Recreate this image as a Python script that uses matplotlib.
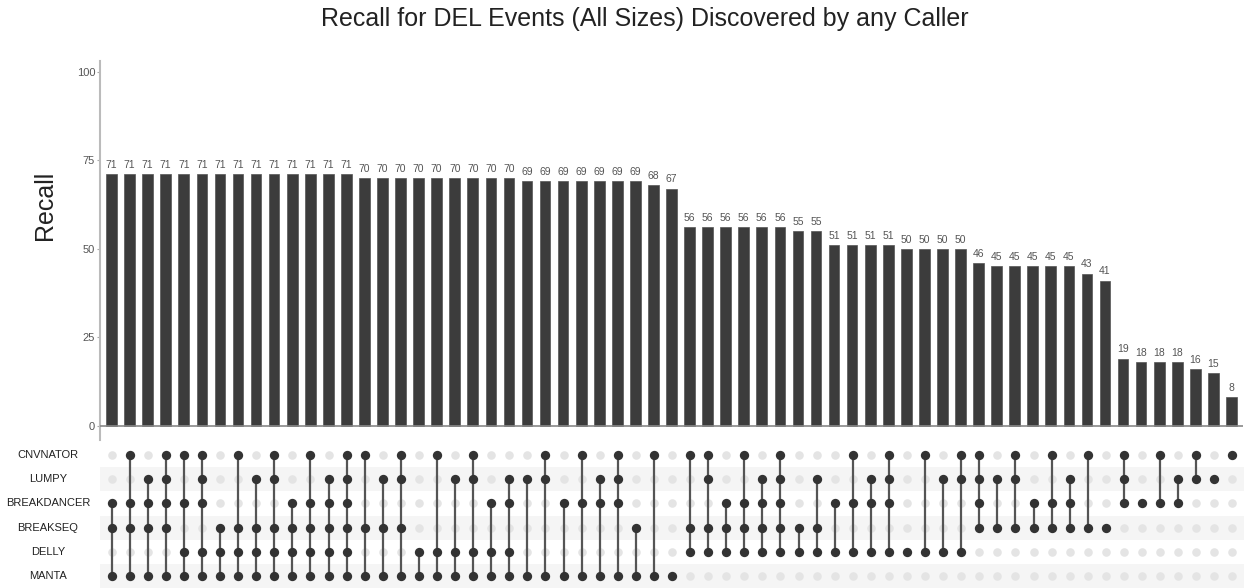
import matplotlib
matplotlib.use('Agg')
import matplotlib.pyplot as plt

plt.rcParams['font.family'] = ['Liberation Sans', 'DejaVu Sans']

callers = ['CNVNATOR', 'LUMPY', 'BREAKDANCER', 'BREAKSEQ', 'DELLY', 'MANTA']
codes = ['C', 'L', 'BD', 'BS', 'D', 'M']

# each column of the matrix: which callers are in the intersection
combos = [
    'BD BS M', 'C BD BS M', 'L BD BS M', 'C L BD BS M', 'C BD D M', 'C L BD D M',
    'BS D M', 'C BS D M', 'L BS D M', 'C L BS D M', 'BD BS D M', 'C BD BS D M',
    'L BD BS D M', 'C L BD BS D M', 'C BS M', 'L BS M', 'C L BS M', 'D M',
    'C D M', 'L D M', 'C L D M', 'BD D M', 'L BD D M', 'L M', 'C L M', 'BD M',
    'C BD M', 'L BD M', 'C L BD M', 'BS M', 'C M', 'M', 'C BS D', 'C L BS D',
    'BD BS D', 'C BD BS D', 'L BD BS D', 'C L BD BS D', 'BS D', 'L BS D', 'BD D',
    'C BD D', 'L BD D', 'C L BD D', 'D', 'C D', 'L D', 'C L D', 'C L BD BS',
    'L BS', 'C L BS', 'BD BS', 'C BD BS', 'L BD BS', 'C BS', 'BS', 'C L BD',
    'BD', 'C BD', 'L BD', 'C L', 'L', 'C',
]

recall = [71, 71, 71, 71, 71, 71, 71, 71, 71, 71, 71, 71, 71, 71,
          70, 70, 70, 70, 70, 70, 70, 70, 70,
          69, 69, 69, 69, 69, 69, 69, 68, 67,
          56, 56, 56, 56, 56, 56, 55, 55,
          51, 51, 51, 51, 50, 50, 50, 50,
          46, 45, 45, 45, 45, 45, 43, 41,
          19, 18, 18, 18, 16, 15, 8]

W, H = 1244, 588
fig = plt.figure(figsize=(W / 100, H / 100), dpi=100)


def px_axes(x0, y0, x1, y1):
    # pixel box (top-left origin) -> figure axes
    return fig.add_axes([x0 / W, 1 - y1 / H, (x1 - x0) / W, (y1 - y0) / H])


n = len(recall)
xs = list(range(n))
xlim = (-0.64, n - 1 + 0.64)

# bars
ax = px_axes(100, 61, 1243, 440)
ax.bar(xs, recall, width=0.59, color='#3c3c3c', edgecolor='#555555', linewidth=0.5, zorder=2)
for x, v in zip(xs, recall):
    ax.annotate(str(v), (x, v), xytext=(0, 3), textcoords='offset points',
                ha='center', va='bottom', fontsize=7.5, color='#555555')
ax.axhline(0, color='#888888', lw=1.2, zorder=3)
ax.set_xlim(*xlim)
ax.set_ylim(-4, 103)
ax.set_yticks([0, 25, 50, 75, 100])
ax.set_xticks([])
ax.tick_params(axis='y', length=2.5, width=0.8, color='#aaaaaa', labelsize=8, labelcolor='#555555', pad=1)
for s in ['top', 'right', 'bottom']:
    ax.spines[s].set_visible(False)
ax.spines['left'].set_color('#bbbbbb')
ax.spines['left'].set_linewidth(1.5)

fig.text(45 / W, 1 - 205 / H, 'Recall', rotation=90, ha='center', va='center', fontsize=18, color='#222222')
fig.text(645 / W, 1 - 19 / H, 'Recall for DEL Events (All Sizes) Discovered by any Caller',
         ha='center', va='center', fontsize=18, color='#222222')

# matrix
mx = px_axes(100, 443, 1244, 588)
mx.set_xlim(*xlim)
mx.set_ylim(len(callers) - 0.5, -0.5)
for i in range(len(callers)):
    if i % 2 == 1:
        mx.axhspan(i - 0.5, i + 0.5, color='#f5f5f5', lw=0, zorder=0)
for x, combo in enumerate(combos):
    members = [codes.index(c) for c in combo.split()]
    for i in range(len(callers)):
        mx.scatter(x, i, s=38, color='#e4e4e4', lw=0, zorder=1)
    if len(members) > 1:
        mx.plot([x, x], [min(members), max(members)], color='#555555', lw=1.6, zorder=2)
    mx.scatter([x] * len(members), members, s=45, color='#333333', lw=0, zorder=3)
mx.axis('off')
for i, name in enumerate(callers):
    fig.text(48 / W, 1 - (443 + (i + 0.5) * 145 / 6) / H, name, ha='center', va='center',
             fontsize=8, color='#222222')

fig.savefig('out.png', dpi=100)
